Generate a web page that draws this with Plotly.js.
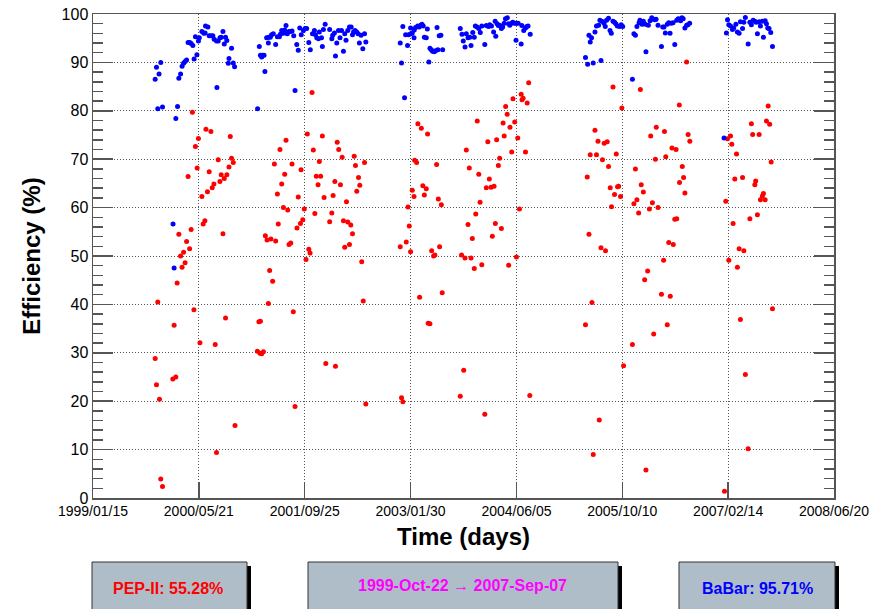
<!DOCTYPE html>
<html>
<head>
<meta charset="utf-8">
<script src="https://cdn.plot.ly/plotly-3.0.1.min.js"></script>
<style>html,body{margin:0;padding:0;background:#fff;}#chart{width:883px;height:609px;}</style>
</head>
<body>
<div id="chart"></div>
<script>
// Days since 1999-01-15 and efficiency (%)
var babarDay = [289,295,307,315,301,323,385,372,377,393,399,407,414,421,428,435,470,483,442,450,456,464,476,490,494,506,515,523,534,521,540,549,557,563,574,582,590,596,604,610,616,622,629,632,644,652,658,576,
765,773,778,784,788,795,799,807,815,817,824,830,838,849,857,866,871,877,885,891,897,903,911,917,925,933,939,947,954,961,968,978,986,993,1003,1010,1020,1029,1034,1040,1048,1052,1062,1066,1071,1079,1100,1110,1114,1122,1127,1133,1141,1148,1155,1164,1170,1176,1184,1192,1200,1206,1211,1218,1226,1232,1238,1246,1254,1262,1268,
1428,1434,1440,1448,1453,1462,1467,1476,1477,1484,1492,1493,1499,1509,1516,1523,1529,1535,1540,1549,1554,1561,1566,1572,1578,1586,1592,1599,1603,1609,1617,1625,
1707,1715,1721,1729,1735,1743,1751,1757,1765,1772,1777,1785,1793,1800,1807,1821,1828,1838,1844,1852,1862,1869,1872,1878,1884,1890,1898,1904,1911,1917,1926,1931,1937,1946,1951,1960,1968,1976,1966,1990,1993,2002,2010,2016,2022,2032,
2289,2299,2305,2311,2317,2325,2333,2340,2350,2356,2361,2365,2375,2381,2387,2396,2403,2409,2417,2424,2430,2437,2448,2455,2462,
2507,2514,2521,2528,2538,2542,2552,2558,2567,2570,2581,2589,2597,2604,2612,2617,2626,2642,2648,2654,2660,2669,2676,2682,2687,2696,2704,2713,2720,2731,2737,2743,2751,2759,2765,2773,
2944,2949,2955,2963,2972,2978,2988,2995,3003,3009,3019,3025,3032,3045,3053,3060,3068,3076,3083,3088,3096,3102,3111,3116,3124,3130,3136,3142,3150,3158,2933];
var babarEff = [86.5,89.0,87.6,90.0,80.4,80.8,78.4,56.6,47.5,80.9,86.7,87.6,89.2,89.8,90.2,90.5,90.7,91.6,94.1,94.1,93.9,93.5,95.3,94.4,95.1,96.4,96.0,97.5,97.3,96.1,95.5,95.5,95.5,94.8,94.4,94.4,95.1,95.2,96.4,93.8,95.2,94.5,89.8,90.8,92.9,89.9,89.1,84.8,
80.4,93.3,91.5,91.1,91.5,91.5,88.1,95.1,94.0,95.2,95.2,95.7,95.9,93.7,95.3,95.3,95.8,96.6,96.0,96.7,97.6,95.9,96.4,96.4,96.5,95.5,84.2,93.7,92.5,97.1,95.7,96.6,97.0,97.0,94.1,92.6,95.9,96.6,95.7,95.1,94.9,96.3,95.1,93.3,96.8,97.9,96.8,94.9,95.6,96.1,91.3,94.0,96.6,95.1,96.6,92.3,95.9,94.6,96.6,97.3,97.3,95.7,96.3,96.6,96.3,95.9,94.0,95.6,92.8,95.9,94.2,
94.0,89.9,97.4,82.7,95.7,93.5,95.7,97.1,95.9,96.1,95.1,96.7,97.2,97.5,97.3,97.7,97.9,97.5,95.2,95.1,96.9,90.1,92.9,92.6,92.3,92.2,92.4,97.2,92.6,95.5,95.6,92.6,
97.0,95.8,94.4,93.2,95.9,95.1,95.2,93.5,96.2,95.2,97.5,97.3,97.0,96.2,97.5,93.7,97.6,97.4,97.8,97.5,96.3,98.5,95.4,98.0,97.6,97.7,97.0,97.3,98.1,99.0,99.2,98.0,97.7,98.1,98.3,98.1,98.1,98.1,94.6,93.8,97.6,96.6,97.1,97.4,97.5,95.8,
91.0,89.6,95.6,94.2,95.1,89.9,96.3,97.5,97.7,98.7,90.4,98.5,98.1,97.4,98.7,99.1,96.6,96.0,98.5,98.3,98.0,97.5,97.4,97.8,97.4,
86.5,95.9,95.6,97.4,98.2,98.7,97.9,98.5,97.9,92.2,97.7,98.6,99.2,98.9,98.8,98.9,97.7,93.3,97.3,97.3,96.1,97.9,98.2,96.0,98.1,98.2,93.7,98.7,99.0,98.6,99.2,99.0,97.1,97.7,97.8,98.1,
96.1,98.8,97.8,97.5,96.8,97.1,97.9,96.3,96.0,98.4,97.0,98.3,99.3,93.8,98.3,97.8,98.7,98.5,98.3,95.9,98.4,97.5,98.5,95.2,98.6,98.0,97.1,97.0,96.2,93.3,74.4];

var pepDay = [1018,462,525,548,638,490,476,582,644,652,484,632,540,442,596,622,610,590,562,554,532,506,520,512,456,399,435,449,421,407,604,
843,869,897,925,891,877,857,885,905,954,967,982,975,964,948,861,801,809,827,849,911,919,996,1024,1052,1038,1058,1046,1074,1066,1135,1142,1158,1124,1150,1116,1178,1110,1100,1164,1184,1198,1206,1192,1170,1214,1220,1262,1234,1240,1226,1031,1003,1009,990,
414,428,391,301,377,469,289,371,385,295,309,315,323,497,568,616,574,660,764,776,784,792,771,778,815,821,835,931,939,1082,1127,1249,1256,1268,
2025,1990,1999,1994,2018,1952,1918,1925,1906,1938,1960,1911,1876,1974,1835,1786,1735,1946,2010,1890,1884,1749,1793,1842,1828,1850,1864,1799,1779,1743,1870,1898,1763,1856,1713,1729,1757,1982,1968,
1510,1526,1555,1495,1504,1597,1533,1549,1540,1484,1492,1605,1619,1464,1470,1428,1456,1476,1574,1583,1589,1611,
2417,2458,2333,2347,2376,2390,2311,2340,2368,2432,2396,2297,2404,2438,2443,2424,2452,2410,2305,2361,2382,
2618,2592,2656,2691,2710,2614,2662,2521,2548,2558,2528,2514,2536,2600,2586,2626,2704,2713,2676,2697,2544,2725,2726,2652,
2759,2766,2774,2739,2745,2751,
2949,2963,2969,2991,3060,3066,3096,3130,3145,3152,2983,3019,3080,3076,3116,3111,3102,3124,2941,2975,3053,3088,3003,3025,2955,3138,
1772,1807,1932,1518,1623,1558,1566,1723,1707,1821,1434,1440,2030,2319,2289,2353,2325,2466,2507,2564,2578,2642,2683,2606,2669,2570,
2995,3158,3009,3032,3045,2935];
var pepEff = [83.8,79.7,76.2,75.7,74.7,74.3,72.6,69.9,70.2,69.3,68.2,68.4,67.4,66.4,66.8,66.8,66.0,65.4,64.9,64.1,63.3,62.3,57.3,56.6,55.5,54.5,53.0,51.5,50.8,50.0,54.6,
69.0,72.0,73.9,69.0,66.9,64.9,62.8,60.0,59.5,62.2,67.8,59.7,57.5,56.7,55.8,56.6,54.2,53.3,53.5,53.1,52.4,52.7,75.2,71.9,69.5,66.5,66.5,64.7,62.1,74.8,73.5,72.0,70.4,65.4,64.7,62.5,61.2,58.9,57.1,57.3,57.0,56.4,54.6,52.4,51.8,70.6,68.7,69.3,66.2,64.6,63.4,58.8,51.4,50.6,49.3,
47.7,48.6,44.4,40.5,35.7,38.9,28.8,24.6,25.0,23.4,20.4,3.9,2.4,32.1,31.7,37.2,9.4,15.0,30.3,29.9,29.8,30.2,36.4,36.5,40.2,47.0,44.8,38.5,18.9,27.8,27.2,48.8,40.7,19.4,
85.8,83.4,82.6,82.3,81.6,82.5,80.9,79.3,77.5,76.6,77.7,74.8,74.0,74.4,73.6,77.9,71.9,71.5,71.5,70.2,68.7,68.2,66.9,65.9,64.1,64.2,64.4,61.1,58.7,56.5,56.7,55.7,53.6,54.1,50.2,49.6,49.6,59.7,49.8,
77.3,76.4,75.2,69.8,69.3,68.9,64.5,63.9,62.6,63.6,62.3,61.8,60.6,60.1,56.2,51.9,52.9,50.9,51.1,50.0,50.2,51.9,
84.9,80.6,76.0,73.7,73.3,73.6,70.9,70.9,69.9,71.1,68.5,66.3,64.1,64.3,64.4,62.7,62.3,60.2,54.5,51.7,51.1,
76.6,74.8,75.7,72.3,72.0,70.0,70.5,68.0,64.7,63.2,61.6,60.8,58.9,61.0,59.7,60.0,57.6,57.7,52.8,52.4,84.4,81.2,65.2,49.1,
90.1,75.1,73.7,68.5,66.2,63.0,
74.2,74.8,73.1,71.1,77.3,75.1,75.1,77.9,77.2,69.4,65.9,66.2,65.5,64.7,62.9,62.4,61.6,61.6,61.3,56.7,57.7,58.5,51.5,51.1,49.1,81.0,
47.4,48.2,48.1,41.5,42.4,36.1,36.0,26.4,21.0,17.3,20.7,19.9,21.2,40.4,35.8,16.1,9.0,27.3,31.7,45.1,46.9,42.1,41.7,33.9,35.8,5.8,
47.7,39.1,36.9,25.5,10.2,1.4];

var tickDates = ['1999-01-15','2000-05-21','2001-09-25','2003-01-30','2004-06-05','2005-10-10','2007-02-14','2008-06-20'];
var tickLabels = ['1999/01/15','2000/05/21','2001/09/25','2003/01/30','2004/06/05','2005/10/10','2007/02/14','2008/06/20'];
var pepLabel = 'PEP-II: 55.28%';
var periodLabel = '1999-Oct-22 \u2192 2007-Sep-07';
var babarLabel = 'BaBar: 95.71%';

var t0 = Date.UTC(1999, 0, 15);
function toDate(d) { return new Date(t0 + d * 86400000).toISOString().slice(0, 10); }

var FONT = 'Liberation Sans, Arial, Helvetica, sans-serif';
var AX = '#555555';

var traces = [
  {x: pepDay.map(toDate), y: pepEff, type: 'scatter', mode: 'markers', name: 'PEP-II',
   marker: {color: '#ff0000', size: 5}},
  {x: babarDay.map(toDate), y: babarEff, type: 'scatter', mode: 'markers', name: 'BaBar',
   marker: {color: '#0000ff', size: 5}}
];

// pixel helpers for decorations below the plot
var L = 93, R = 834, T = 14, B = 498;
function px(x) { return (x - L) / (R - L); }
function py(y) { return (B - y) / (B - T); }

function box(x0, x1) {
  return [
    {type: 'rect', xref: 'paper', yref: 'paper', x0: px(x0 + 4), x1: px(x1 + 4), y0: py(640), y1: py(566),
     fillcolor: '#000', line: {width: 0}},
    {type: 'rect', xref: 'paper', yref: 'paper', x0: px(x0), x1: px(x1), y0: py(640), y1: py(562),
     fillcolor: '#aebdc8', line: {color: '#333', width: 1}}
  ];
}
var shapes = [].concat(box(92, 247), box(308, 618), box(679, 835));

var annotations = [
  {xref: 'paper', yref: 'paper', x: px(168), y: py(588), text: '<b>' + pepLabel + '</b>', showarrow: false,
   font: {family: FONT, size: 16, color: '#ff0000'}, xanchor: 'center', yanchor: 'middle'},
  {xref: 'paper', yref: 'paper', x: px(462), y: py(585), text: '<b>' + periodLabel + '</b>', showarrow: false,
   font: {family: FONT, size: 16, color: '#ff00ff'}, xanchor: 'center', yanchor: 'middle'},
  {xref: 'paper', yref: 'paper', x: px(757), y: py(588), text: '<b>' + babarLabel + '</b>', showarrow: false,
   font: {family: FONT, size: 16, color: '#0000ff'}, xanchor: 'center', yanchor: 'middle'}
];

var layout = {
  width: 883, height: 609,
  margin: {l: L, r: 883 - R, t: T, b: 609 - B},
  paper_bgcolor: '#fff', plot_bgcolor: '#fff',
  showlegend: false,
  font: {family: FONT, color: '#000'},
  xaxis: {
    type: 'date', range: [tickDates[0], tickDates[7]],
    tickmode: 'array', tickvals: tickDates, ticktext: tickLabels,
    ticks: 'inside', ticklen: 16, tickwidth: 1.5, tickcolor: AX,
    showline: true, linecolor: AX, linewidth: 1.5, mirror: true,
    showgrid: true, gridcolor: AX, gridwidth: 1, griddash: '1px,2px',
    zeroline: false, tickfont: {family: FONT, size: 14, color: '#000'},
    title: {text: '<b>Time (days)</b>', font: {family: FONT, size: 24, color: '#000'}, standoff: 10}
  },
  xaxis2: {
    type: 'date', range: [tickDates[0], tickDates[7]], overlaying: 'x', side: 'top',
    tickmode: 'array', tickvals: tickDates, showticklabels: false,
    ticks: 'inside', ticklen: 8, tickwidth: 1.5, tickcolor: AX,
    showline: false, showgrid: false, zeroline: false
  },
  yaxis: {
    range: [0, 100], tick0: 0, dtick: 10,
    ticks: 'inside', ticklen: 20, tickwidth: 1.5, tickcolor: AX,
    minor: {dtick: 2, ticks: 'inside', ticklen: 10, tickwidth: 1.5, tickcolor: AX, showgrid: false},
    showline: true, linecolor: AX, linewidth: 1.5, mirror: 'ticks',
    showgrid: true, gridcolor: AX, gridwidth: 1, griddash: '1px,2px',
    zeroline: false, tickfont: {family: FONT, size: 16, color: '#000'},
    title: {text: '<b>Efficiency (%)</b>', font: {family: FONT, size: 24, color: '#000'}, standoff: 14}
  },
  shapes: shapes,
  annotations: annotations
};

Plotly.newPlot('chart', traces, layout, {staticPlot: true, displayModeBar: false});
</script>
</body>
</html>
